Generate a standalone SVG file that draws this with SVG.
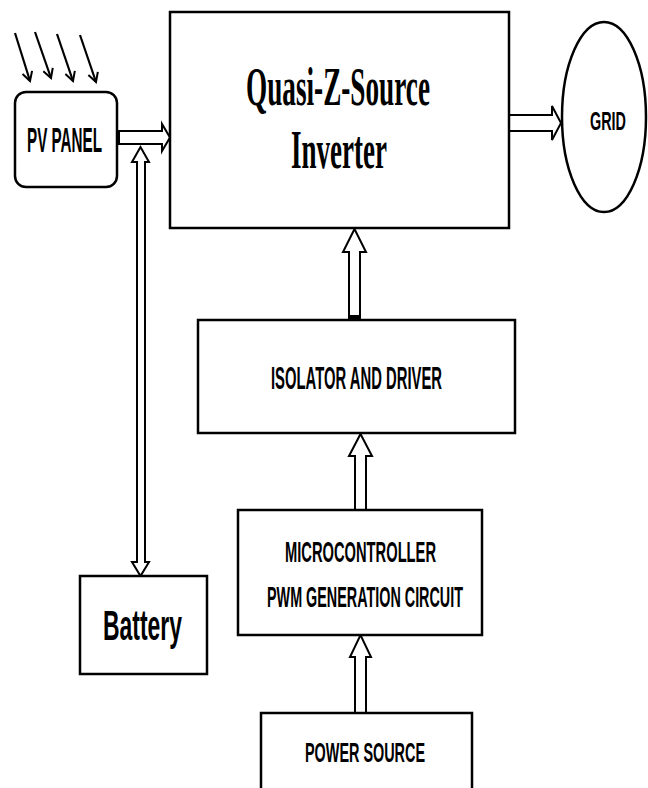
<svg xmlns="http://www.w3.org/2000/svg" width="648" height="788" viewBox="0 0 648 788">
<defs>
<marker id="chev" viewBox="0 0 12 12" refX="10" refY="6" markerWidth="12" markerHeight="12" markerUnits="userSpaceOnUse" orient="auto">
<path d="M1,1 L10,6 L1,11" fill="none" stroke="#000" stroke-width="2"/>
</marker>
</defs>
<style>
.box{fill:#fff;stroke:#000;stroke-width:2.5}
.arr{fill:#fff;stroke:#000;stroke-width:2;stroke-linejoin:miter}
.sun{stroke:#000;stroke-width:2.2;fill:none}
.lbl{font-family:"Liberation Sans",Arial,sans-serif;font-weight:bold;fill:#000;text-anchor:start}
.ser{font-family:"Liberation Serif","Times New Roman",serif;font-weight:bold;fill:#000}
</style>
<rect width="648" height="788" fill="#fff"/>
<g id="sun">
<line class="sun" x1="15" y1="33" x2="30" y2="81" marker-end="url(#chev)"/>
<line class="sun" x1="35" y1="32" x2="51" y2="78" marker-end="url(#chev)"/>
<line class="sun" x1="57" y1="34" x2="73" y2="81" marker-end="url(#chev)"/>
<line class="sun" x1="80" y1="35" x2="96" y2="82" marker-end="url(#chev)"/>
</g>
<g id="connectors">
<polygon class="arr" points="119,131 162,131 162,124 170,137.5 162,151 162,144 119,144"/>
<polygon class="arr" points="509,115 552,115 552,106 561,123 552,140 552,131 509,131"/>
<polygon class="arr" points="349,320 349,252 343,252 354.5,229 366,252 360,252 360,320"/>
<rect x="349" y="315" width="11" height="5" fill="#000"/>
<polygon class="arr" points="355,510 355,456 349,456 360.5,434 372,456 366,456 366,510"/>
<polygon class="arr" points="355,713 355,657 350,657 360.5,635 371,657 366,657 366,713"/>
<polygon class="arr" points="137,162 132,162 140.5,147 149,162 145,162 145,562 149,562 140.5,576 132,562 137,562"/>
</g>
<g id="pv">
<rect class="box" x="15" y="92" width="102" height="95" rx="11"/>
<text class="lbl" x="27" y="152" font-size="35" textLength="75" lengthAdjust="spacingAndGlyphs">PV PANEL</text>
</g>
<g id="inverter">
<rect class="box" x="170" y="12" width="339" height="216"/>
<text class="ser" x="246" y="105" font-size="54" textLength="184" lengthAdjust="spacingAndGlyphs">Quasi-Z-Source</text>
<text class="ser" x="291" y="168" font-size="54" textLength="96" lengthAdjust="spacingAndGlyphs">Inverter</text>
</g>
<g id="grid">
<ellipse class="box" cx="604" cy="117" rx="42" ry="95"/>
<text class="lbl" x="590" y="130" font-size="26" textLength="36" lengthAdjust="spacingAndGlyphs">GRID</text>
</g>
<g id="battery">
<rect class="box" x="80" y="576" width="127" height="98"/>
<text class="lbl" x="103" y="640" font-size="43" textLength="79" lengthAdjust="spacingAndGlyphs">Battery</text>
</g>
<g id="isolator">
<rect class="box" x="198" y="320" width="317" height="113"/>
<text class="lbl" x="271" y="389" font-size="32" textLength="171" lengthAdjust="spacingAndGlyphs">ISOLATOR AND DRIVER</text>
</g>
<g id="micro">
<rect class="box" x="238" y="510" width="244" height="125"/>
<text class="lbl" x="285" y="562" font-size="30" textLength="151" lengthAdjust="spacingAndGlyphs">MICROCONTROLLER</text>
<text class="lbl" x="267" y="607" font-size="30" textLength="196" lengthAdjust="spacingAndGlyphs">PWM GENERATION CIRCUIT</text>
</g>
<g id="power">
<rect class="box" x="261" y="713" width="211" height="90"/>
<text class="lbl" x="305" y="762" font-size="28" textLength="120" lengthAdjust="spacingAndGlyphs">POWER SOURCE</text>
</g>
</svg>
